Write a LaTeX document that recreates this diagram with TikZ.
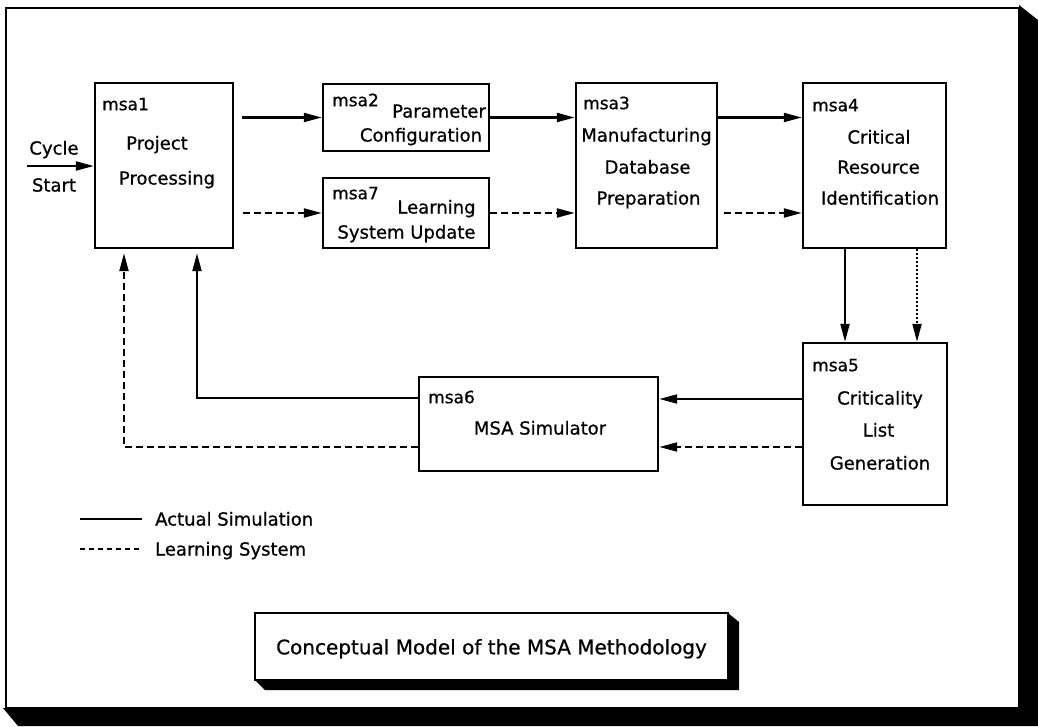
\documentclass[tikz,border=0pt]{standalone}
\usepackage{fontspec}
\setmainfont{DejaVu Sans}[BoldFont=DejaVu Sans, BoldFeatures={FakeBold=0.7}]
\usetikzlibrary{arrows.meta}
\begin{document}
\begin{tikzpicture}[x=1pt,y=-1pt,
  blk/.style={draw, line width=2.4pt, inner sep=0pt, fill=white},
  txt/.style={inner sep=0pt, text height=13.1pt, text depth=0pt, font=\fontsize{18}{22}\selectfont\bfseries},
  lbl/.style={inner sep=0pt, text height=12.4pt, text depth=0pt, font=\fontsize{17}{20}\selectfont\bfseries, anchor=west},
  arr/.style={line width=2.1pt, -{Triangle[length=18pt,width=9pt]}},
  dsh/.style={arr, dash pattern=on 7pt off 4pt},
  dot/.style={arr, dash pattern=on 2pt off 2pt}]
\useasboundingbox (0,0) rectangle (1038,726);
\fill[white] (0,0) rectangle (1038,726);
% outer frame and shadow
\draw[line width=2.6pt] (6,8) rectangle (1019,708);
\fill[black] (1019,5) -- (1038,20) -- (1038,726) -- (18,726) -- (3,708) -- (1019,708) -- cycle;
% boxes
\node[blk, minimum width=138pt, minimum height=165pt] (m1) at (164,165.5) {};
\node[blk, minimum width=166pt, minimum height=67pt] (m2) at (406,117.5) {};
\node[blk, minimum width=166pt, minimum height=70pt] (m7) at (406,213) {};
\node[blk, minimum width=141pt, minimum height=165pt] (m3) at (646.5,165.5) {};
\node[blk, minimum width=143pt, minimum height=165pt] (m4) at (874.5,165.5) {};
\node[blk, minimum width=144pt, minimum height=162pt] (m5) at (875,424) {};
\node[blk, minimum width=239pt, minimum height=94pt] (m6) at (538.5,424) {};
% texts
\node[lbl] (t1a) at (102,104) {msa1};
\node[txt] (t1b) at (157,143) {Project};
\node[txt] (t1c) at (167,178) {Processing};
\node[lbl] (t2a) at (332,100) {msa2};
\node[txt, anchor=west] (t2b) at (392,111) {Parameter};
\node[txt] (t2c) at (421,135) {Configuration};
\node[lbl] (t7a) at (332,193) {msa7};
\node[txt] (t7b) at (436.5,207) {Learning};
\node[txt] (t7c) at (406.5,232) {System Update};
\node[lbl] (t3a) at (583,103) {msa3};
\node[txt] (t3b) at (646.5,135) {Manufacturing};
\node[txt] (t3c) at (647.5,167) {Database};
\node[txt] (t3d) at (648.5,198) {Preparation};
\node[lbl] (t4a) at (812,105) {msa4};
\node[txt] (t4b) at (879,137) {Critical};
\node[txt] (t4c) at (878.5,167) {Resource};
\node[txt] (t4d) at (880,198) {Identification};
\node[lbl] (t5a) at (812,365) {msa5};
\node[txt] (t5b) at (880,398) {Criticality};
\node[txt] (t5c) at (878.5,430) {List};
\node[txt] (t5d) at (880,463) {Generation};
\node[lbl] (t6a) at (428,397) {msa6};
\node[txt] (t6b) at (540,428) {MSA Simulator};
% cycle start
\coordinate (cs) at (27,166);
\node[txt] (cy) at (54,148) {Cycle};
\node[txt] (st) at (54,185) {Start};
\draw[arr] (cs) -- (cs -| m1.west);
% top row connectors
\draw[arr, shorten <=8pt] (m1.east |- m2.west) -- (m2.west);
\draw[dsh, shorten <=9pt] (m1.east |- m7.west) -- (m7.west);
\draw[arr] (m2.east) -- (m3.west |- m2.east);
\draw[dsh] (m7.east) -- (m3.west |- m7.east);
\draw[arr] (m3.east |- m2.east) -- (m4.west |- m2.east);
\draw[dsh, shorten <=6pt] (m3.east |- m7.east) -- (m4.west |- m7.east);
% msa4 -> msa5
\draw[arr] ([xshift=-29.5pt]m4.south) -- ([xshift=-29.5pt]m4.south |- m5.north);
\draw[dot] ([xshift=42.5pt]m4.south) -- ([xshift=42.5pt]m4.south |- m5.north);
% msa5 -> msa6
\draw[arr] ([yshift=25pt]m5.west) -- ([yshift=25pt]m5.west -| m6.east);
\draw[dsh] ([yshift=-23pt]m5.west) -- ([yshift=-23pt]m5.west -| m6.east);
% msa6 -> msa1
\draw[arr, shorten >=4pt] ([yshift=26pt]m6.west) -| ([xshift=33pt]m1.south);
\draw[dsh, shorten >=4pt] ([yshift=-23pt]m6.west) -| ([xshift=-40pt]m1.south);
% legend
\coordinate (la1) at (80,519); \coordinate (la2) at (142,519);
\coordinate (lb1) at (80,549); \coordinate (lb2) at (142,549);
\draw[line width=2pt] (la1) -- (la2);
\draw[line width=2pt, dash pattern=on 5pt off 4pt] (lb1) -- (lb2);
\node[txt, anchor=west] (lga) at (155,519) {Actual Simulation};
\node[txt, anchor=west] (lgb) at (155,549) {Learning System};
% title box with shadow
\fill[black] (728,613) -- (739,622) -- (739,690) -- (265,690) -- (255,680) -- (728,680) -- cycle;
\node[blk, minimum width=473pt, minimum height=67pt] (tb) at (491.5,646.5) {};
\node[txt, font=\fontsize{20}{24}\selectfont\bfseries, text height=14.6pt] (tt) at (491.5,647) {Conceptual Model of the MSA Methodology};
\end{tikzpicture}
\end{document}
